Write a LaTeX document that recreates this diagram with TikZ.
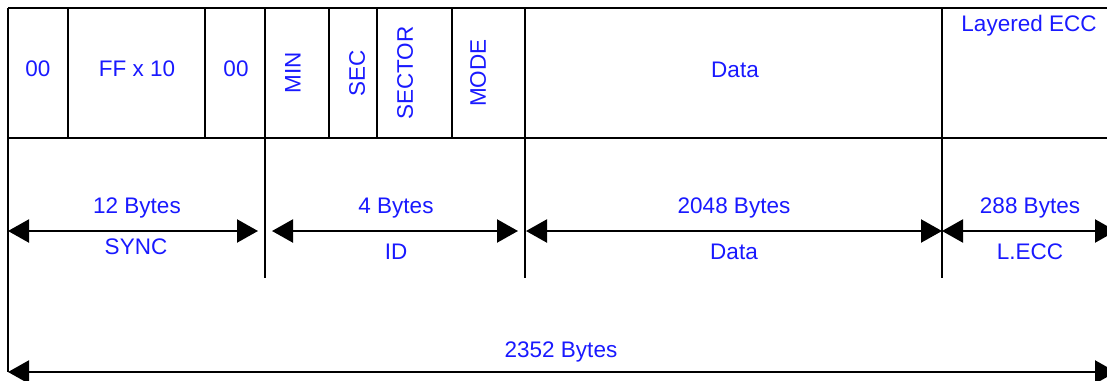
\documentclass[tikz,border=0pt]{standalone}
\usepackage{fontspec}
\setmainfont{Liberation Sans}
\usetikzlibrary{arrows.meta}
\definecolor{lbl}{RGB}{25,25,255}
\begin{document}
\begin{tikzpicture}[x=1pt,y=-1pt,
  frame/.style={line width=2.4pt,black},
  dim/.style={line width=2.2pt,black,{Triangle[length=21pt,width=23pt]}-{Triangle[length=21pt,width=23pt]}},
  txt/.style={inner sep=0pt,text=lbl,font=\fontsize{22.5}{27}\selectfont},
  btxt/.style={txt,anchor=base},
  vtxt/.style={txt,rotate=90,anchor=center}]
\useasboundingbox (0,0) rectangle (1107,380);
% frame lines
\draw[frame] (8,8) -- (1107,8);
\draw[frame] (8,138) -- (1107,138);
\draw[frame] (8,8) -- (8,372);
\foreach \x in {68,205,329,377,452}{\draw[frame] (\x,8) -- (\x,138);}
\foreach \x in {265,525,942}{\draw[frame] (\x,8) -- (\x,278);}
% top row texts
\node[btxt] (t00a) at (38,76) {00};
\node[btxt] (tff) at (137,76) {FF x 10};
\node[btxt] (t00b) at (236,76) {00};
\node[vtxt] (tmin) at (293,73) {MIN};
\node[vtxt] (tsec) at (357,73) {SEC};
\node[vtxt] (tsector) at (405,73) {SECTOR};
\node[vtxt] (tmode) at (478,73) {MODE};
\node[btxt] (tdata) at (735,77) {Data};
\node[btxt] (tecc) at (1029,31) {Layered ECC};
% dimension coordinates
\coordinate (s1) at (8,231);
\coordinate (s2) at (258,231);
\coordinate (i1) at (272,231);
\coordinate (i2) at (518,231);
\coordinate (d1) at (526,231);
\coordinate (d2) at (942,231);
\coordinate (e1) at (942,231);
\coordinate (e2) at (1116,231);
\coordinate (b1) at (8,372);
\coordinate (b2) at (1116,372);
\draw[dim] (s1) -- (s2);
\draw[dim] (i1) -- (i2);
\draw[dim] (d1) -- (d2);
\draw[dim] (e1) -- (e2);
\draw[dim] (b1) -- (b2);
% dimension labels
\node[btxt] (l12) at (137,213) {12 Bytes};
\node[btxt] (lsync) at (136,254) {SYNC};
\node[btxt] (l4) at (396,213) {4 Bytes};
\node[btxt] (lid) at (396,259) {ID};
\node[btxt] (l2048) at (734,213) {2048 Bytes};
\node[btxt] (ldata) at (734,259) {Data};
\node[btxt] (l288) at (1030,213) {288 Bytes};
\node[btxt] (lecc) at (1030,259) {L.ECC};
\node[btxt] (l2352) at (561,357) {2352 Bytes};
\end{tikzpicture}
\end{document}
